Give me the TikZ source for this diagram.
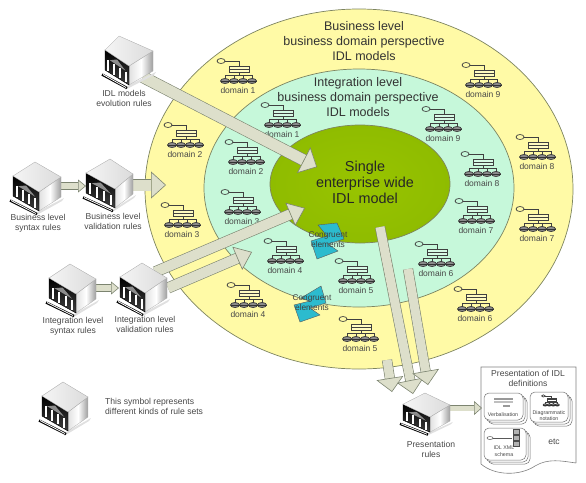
\documentclass[tikz,border=0pt]{standalone}
\usepackage{fontspec}
\setmainfont{Liberation Sans}
\usetikzlibrary{arrows.meta,calc}
\definecolor{outerfill}{HTML}{FFFAA6}
\definecolor{midfill}{HTML}{C6F8DA}
\definecolor{corein}{HTML}{98C400}
\definecolor{coreout}{HTML}{8FBC00}
\definecolor{ringline}{HTML}{7D8460}
\definecolor{arrowfill}{HTML}{DDDFCB}
\definecolor{arrowedge}{HTML}{7C8470}
\definecolor{congfill}{HTML}{2CBBCE}
\definecolor{txtgray}{HTML}{484848}
\tikzset{
  ring/.style={draw=ringline,line width=0.7pt},
  blockarrow/.style n args={3}{draw=arrowedge,line width=0.6pt,double=arrowfill,double distance=#1,
    -{Triangle[length=#3,width=#2,fill=arrowfill,color=arrowedge,line width=0.6pt]}},
  domainlabel/.style={font=\fontsize{8.5}{10}\selectfont,text=txtgray,inner sep=0pt},
  rulelabel/.style={font=\fontsize{8.6}{10}\selectfont,text=txtgray,align=center,inner sep=0pt},
  ringtitle/.style={font=\fontsize{12.5}{15}\selectfont,text=black!80,align=center,inner sep=0pt},
  congshape/.style={draw=black!65,line width=0.4pt,fill=congfill},
  conglabel/.style={font=\fontsize{8.3}{10}\selectfont,text=black!75,align=center,inner sep=0pt},
  cardbox/.style={draw=black!55,line width=0.5pt,fill=white,rounded corners=5pt},
  cardlabel/.style={font=\fontsize{5.3}{6.8}\selectfont,text=txtgray,align=center,inner sep=0pt},
  pics/orgchart/.style={code={
    \draw[black!75,line width=0.7pt] (-17,-29) ellipse [x radius=4,y radius=2.5];
    \draw[black!75,line width=0.7pt] (-13,-29) -- (1,-29) -- (1,-24);
    \draw[black!75,line width=0.7pt,fill=white!30!#1] (-9,-24) rectangle (11,-18);
    \draw[black!75,line width=0.5pt] (-9,-21) -- (11,-21);
    \draw[black!75,line width=0.7pt] (1,-18) -- (1,-15);
    \draw[black!75,line width=0.7pt] (-13,-15) -- (14,-15);
    \foreach \dx in {-13,-4,5,14} {
      \draw[black!75,line width=0.7pt] (\dx,-15) -- (\dx,-11.5);
      \draw[black!80,line width=0.7pt,fill=black!45] (\dx,-9) ellipse [x radius=4.5,y radius=2.5];
      \draw[black!80,line width=0.5pt] (\dx-4.5,-9) -- (\dx+4.5,-9);
    }
  }},
  pics/ruleset/.style n args={3}{code={
    \coordinate (a) at (0,0);
    \coordinate (l) at (#1,14);
    \coordinate (f) at (#2,30);
    \coordinate (r) at (#3,15);
    \fill[black!12] ($(f)+(0,19)$) -- ($(r)+(3,21)$) -- ($(r)+(1,24)$) -- ($(f)+(-4,24)$) -- cycle;
    \shade[left color=black!12,right color=black!38,middle color=white,draw=black!30,line width=0.3pt] (f) -- (r) -- ($(r)+(0,20)$) -- ($(f)+(0,19)$) -- cycle;
    \shade[bottom color=black!75,top color=black,draw=black] (l) -- (f) -- ($(f)+(0,19)$) -- ($(l)+(0,20)$) -- cycle;
    \fill[black!45] ($(l)!0.2!(f)+(0,7)$) -- ($(l)!0.5!(f)+(0,1.5)$) -- ($(l)!0.85!(f)+(0,7)$) -- cycle;
    \shade[left color=black!4,right color=black!14,draw=black!35,line width=0.3pt] (a) -- (r) -- (f) -- (l) -- cycle;
    \foreach \t in {0.14,0.38,0.62,0.86} {
      \draw[white,line width=2pt] ($(l)!\t!(f)+(0,8)$) -- ($(l)!\t!(f)+(0,18.5)$);
    }
    \draw[black,line width=2.4pt] ($(l)+(-3,24.5)$) -- ($(f)+(-2,22)$);
    \draw[white,line width=0.8pt] ($(l)+(-2,24.5)$) -- ($(f)+(-3,21.5)$);
  }}
}
\begin{document}
\begin{tikzpicture}[x=1pt,y=-1pt]
\useasboundingbox (0,0) rectangle (586,482);
% rings
\draw[ring,fill=outerfill] (359,189) ellipse [x radius=214,y radius=180];
\draw[ring,fill=midfill] (359,188) ellipse [x radius=155,y radius=119];
\draw[ring,inner color=corein,outer color=coreout] (360,184) ellipse [x radius=90,y radius=59];
\node[ringtitle] (bustitle) at (364,41) {Business level\\business domain perspective\\IDL models};
\node[ringtitle] (inttitle) at (358,97) {Integration level\\business domain perspective\\IDL models};
\node[ringtitle,font=\fontsize{14.4}{16}\selectfont,text=black!85] (coretitle) at (365,182) {Single\\enterprise wide\\IDL model};
% business level domains
\foreach \x/\y/\n in {238/90/1,185/154/2,182/234/3,248/314/4,360/348/5,475/318/6,537/238/7,537/166/8,483/94/9} {
  \node[domainlabel] (busdom\n) at (\x,\y) {domain \n};
  \pic at (\x,\y) {orgchart=outerfill};
}
% integration level domains
\foreach \x/\y/\n in {282/134/1,246/171/2,242/221/3,285/270/4,356/290/5,436/273/6,476/230/7,482/183/8,443/138/9} {
  \node[domainlabel] (intdom\n) at (\x,\y) {domain \n};
  \pic at (\x,\y) {orgchart=midfill};
}
% congruent elements
\draw[congshape] (318,225) -- (337,223) -- (344,239) -- (328,244) -- (338,251) -- (317,259) -- (311,241) -- (327,236) -- cycle;
\draw[congshape] (301,298) -- (321,286) -- (326,303) -- (310,308) -- (320,315) -- (300,322) -- (294,305) -- (310,301) -- cycle;
\node[conglabel] (congint) at (328,240) {Congruent\\elements};
\node[conglabel] (congbus) at (312,303) {Congruent\\elements};
% arrow ends
\coordinate (idlout) at (143,77);
\coordinate (coreA) at (317,167);
\coordinate (bsynout) at (60,186);
\coordinate (bvalin) at (86,186);
\coordinate (bvalout) at (133,185);
\coordinate (busin) at (166,185);
\coordinate (isynout) at (96,288);
\coordinate (ivalin) at (119,288);
\coordinate (ivalup) at (155,272);
\coordinate (coreB) at (305,208);
\coordinate (ivallow) at (168,288);
\coordinate (intin) at (252,252);
\coordinate (coreexit) at (380,227);
\coordinate (presA) at (413,394);
\coordinate (intout) at (408,269);
\coordinate (presB) at (428,385);
\coordinate (busout) at (387,360);
\coordinate (presC) at (392,392);
\coordinate (presout) at (448,408);
\coordinate (docin) at (482,408);
\draw[blockarrow={11pt}{29pt}{15pt}] (idlout) -- (coreA);
\draw[blockarrow={6pt}{13pt}{8pt}] (bsynout) -- (bvalin);
\draw[blockarrow={11pt}{27pt}{15pt}] (bvalout) -- (busin);
\draw[blockarrow={6pt}{13pt}{8pt}] (isynout) -- (ivalin);
\draw[blockarrow={10pt}{25pt}{16pt}] (ivalup) -- (coreB);
\draw[blockarrow={10pt}{25pt}{16pt}] (ivallow) -- (intin);
\draw[blockarrow={9pt}{27pt}{14pt}] (busout) -- (presC);
\draw[blockarrow={9pt}{27pt}{14pt}] (coreexit) -- (presA);
\draw[blockarrow={9pt}{27pt}{14pt}] (intout) -- (presB);
\draw[blockarrow={5pt}{14pt}{8pt}] (presout) -- (docin);
% rule sets
\pic at (119,36) {ruleset={-14}{10}{34}};
\pic at (35,162) {ruleset={-22}{4}{26}};
\pic at (110,159) {ruleset={-24}{5}{23}};
\pic at (70,264) {ruleset={-21}{6}{26}};
\pic at (142,263) {ruleset={-22}{3}{25}};
\pic at (63,382) {ruleset={-21}{5}{25}};
\pic[yscale=0.8] at (425,393) {ruleset={-22}{5}{25}};
\node[rulelabel] (idlrules) at (124,98) {IDL models\\evolution rules};
\node[rulelabel] (bsynrules) at (38,223) {Business level\\syntax rules};
\node[rulelabel] (bvalrules) at (113,221) {Business level\\validation rules};
\node[rulelabel] (isynrules) at (73,326) {Integration level\\syntax rules};
\node[rulelabel] (ivalrules) at (145,324) {Integration level\\validation rules};
\node[rulelabel,align=left,anchor=west] (legend) at (105,406) {This symbol represents\\different kinds of rule sets};
\node[rulelabel] (presrules) at (431,449) {Presentation\\rules};
% presentation sheet
\draw[black!50,line width=0.6pt] (576,463) -- (576,367) -- (481,367) -- (481,464) .. controls (495,476) and (520,476) .. (535,466) .. controls (548,458) and (562,461) .. (576,463);
\node[rulelabel] (sheettitle) at (528,378.5) {Presentation of IDL\\definitions};
\foreach \d in {4,2,0} {
  \draw[cardbox] (484+\d,393+\d) rectangle (523+\d,420+\d);
  \draw[cardbox] (530+\d,392+\d) rectangle (568+\d,422+\d);
  \draw[cardbox] (484+\d,428+\d) rectangle (526+\d,460+\d);
}
\node[cardlabel] (verbal) at (503,415) {Verbalisation};
\node[cardlabel] (diagram) at (549,415.5) {Diagrammatic\\notation};
\node[cardlabel] (xmlschema) at (504,451.5) {IDL XML\\schema};
\node[rulelabel] (etc) at (554,442) {etc};
\fill[black!40] (494,398) rectangle (513,400);
\fill[black!25] (494,401) rectangle (513,403);
\fill[black!40] (503,405) rectangle (510,407);
\pic[scale=0.45] at (551,409) {orgchart=white};
\draw[black!65,line width=0.5pt] (490,438) ellipse [x radius=3,y radius=1.5];
\draw[black!65,line width=0.5pt] (493,438) -- (512,438);
\foreach \y in {432,438,444} { \draw[black!70,line width=0.5pt,fill=black!30] (513,\y-2.5) rectangle (519,\y+2.5); }
\end{tikzpicture}
\end{document}
